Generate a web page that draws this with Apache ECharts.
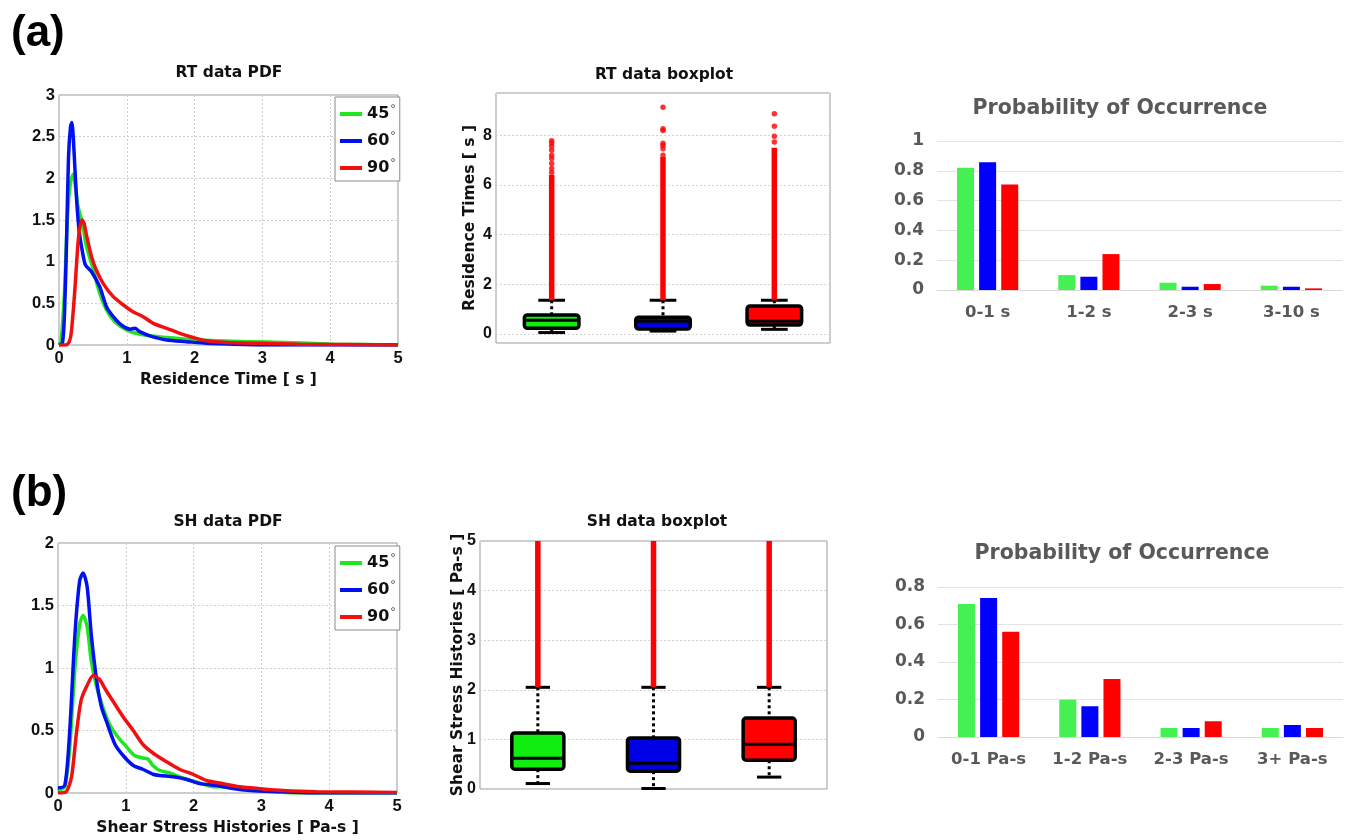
<!DOCTYPE html>
<html><head><meta charset="utf-8">
<script src="https://cdn.jsdelivr.net/npm/echarts@6/dist/echarts.min.js"></script>
<style>html,body{margin:0;padding:0;background:#fff}#c{width:1349px;height:840px}</style>
</head><body><div id="c"></div>
<script>
// ---------- data ----------
const angles = ['45', '60', '90'];

// RT PDF curves
const rt45X = [0, 0.03, 0.08, 0.13, 0.17, 0.21, 0.25, 0.28, 0.34, 0.4, 0.5, 0.6, 0.7, 0.82, 0.95, 1.09, 1.34, 1.59, 1.88, 2.33, 2.82, 3.31, 4.05, 5];
const rt45Y = [0, 0.04, 0.62, 1.62, 1.95, 2.05, 1.85, 1.66, 1.48, 1.2, 0.92, 0.62, 0.42, 0.28, 0.2, 0.15, 0.11, 0.09, 0.07, 0.05, 0.04, 0.03, 0.01, 0.0];
const rt60X = [0, 0.05, 0.08, 0.11, 0.14, 0.17, 0.19, 0.22, 0.26, 0.3, 0.35, 0.39, 0.48, 0.6, 0.7, 0.8, 0.92, 1.05, 1.12, 1.19, 1.34, 1.59, 1.88, 2.18, 2.57, 3.06, 5];
const rt60Y = [0, 0.02, 0.35, 1.2, 2.25, 2.62, 2.67, 2.35, 1.74, 1.35, 1.1, 0.96, 0.88, 0.7, 0.46, 0.34, 0.24, 0.19, 0.2, 0.16, 0.11, 0.06, 0.04, 0.02, 0.01, 0, 0];
const rt90X = [0, 0.1, 0.15, 0.18, 0.23, 0.28, 0.31, 0.34, 0.37, 0.4, 0.48, 0.55, 0.65, 0.8, 0.95, 1.09, 1.24, 1.39, 1.59, 1.78, 1.98, 2.18, 2.47, 2.97, 3.56, 5];
const rt90Y = [0, 0, 0.04, 0.14, 0.62, 1.22, 1.42, 1.5, 1.46, 1.34, 1.06, 0.9, 0.74, 0.58, 0.48, 0.4, 0.34, 0.26, 0.2, 0.14, 0.09, 0.05, 0.03, 0.02, 0.01, 0];

// SH PDF curves
const sh45X = [0, 0.1, 0.17, 0.25, 0.32, 0.37, 0.43, 0.49, 0.57, 0.66, 0.76, 0.88, 1.01, 1.13, 1.25, 1.33, 1.4, 1.5, 1.65, 1.84, 2.09, 2.29, 2.58, 2.83, 3.17, 3.56, 5];
const sh45Y = [0.02, 0.05, 0.34, 1.0, 1.35, 1.42, 1.33, 1.06, 0.85, 0.69, 0.55, 0.45, 0.37, 0.3, 0.28, 0.27, 0.22, 0.18, 0.16, 0.12, 0.08, 0.05, 0.05, 0.03, 0.01, 0, 0];
const sh60X = [0, 0.1, 0.17, 0.25, 0.32, 0.37, 0.43, 0.49, 0.57, 0.64, 0.71, 0.84, 0.96, 1.11, 1.25, 1.4, 1.5, 1.7, 1.89, 2.09, 2.34, 2.58, 2.83, 3.32, 3.81, 5];
const sh60Y = [0.04, 0.06, 0.47, 1.27, 1.7, 1.76, 1.65, 1.27, 0.9, 0.69, 0.58, 0.39, 0.3, 0.22, 0.19, 0.15, 0.14, 0.13, 0.11, 0.075, 0.06, 0.035, 0.02, 0.01, 0, 0];
const sh90X = [0, 0.12, 0.2, 0.27, 0.34, 0.42, 0.52, 0.61, 0.71, 0.84, 0.96, 1.11, 1.25, 1.4, 1.6, 1.79, 1.99, 2.19, 2.38, 2.68, 2.97, 3.32, 3.81, 5];
const sh90Y = [0, 0.01, 0.13, 0.47, 0.74, 0.85, 0.94, 0.91, 0.82, 0.71, 0.61, 0.5, 0.39, 0.32, 0.25, 0.19, 0.15, 0.1, 0.08, 0.05, 0.035, 0.02, 0.01, 0.005];

// RT boxplot
const rtLow = [0.06, 0.12, 0.19];
const rtQ1 = [0.23, 0.2, 0.36];
const rtMed = [0.56, 0.52, 0.52];
const rtQ3 = [0.77, 0.68, 1.13];
const rtHigh = [1.36, 1.36, 1.36];
const rtDenseTop = [6.4, 7.12, 7.5];
const rtOut45 = [6.5, 6.66, 6.86, 7.06, 7.2, 7.4, 7.56, 7.69, 7.78];
const rtOut60 = [7.2, 7.46, 7.59, 7.68, 8.19, 8.26, 9.13];
const rtOut90 = [7.73, 7.96, 8.36, 8.87];

// SH boxplot
const shLow = [0.11, 0.01, 0.24];
const shQ1 = [0.40, 0.36, 0.58];
const shMed = [0.62, 0.52, 0.90];
const shQ3 = [1.13, 1.03, 1.43];
const shHigh = [2.05, 2.05, 2.05];
const shDenseTop = [5, 5, 5];

// Probability bars
const rtBins = ['0-1 s', '1-2 s', '2-3 s', '3-10 s'];
const rtProb45 = [0.82, 0.10, 0.049, 0.029];
const rtProb60 = [0.857, 0.089, 0.022, 0.022];
const rtProb90 = [0.708, 0.241, 0.040, 0.011];
const shBins = ['0-1 Pa-s', '1-2 Pa-s', '2-3 Pa-s', '3+ Pa-s'];
const shProb45 = [0.709, 0.199, 0.048, 0.048];
const shProb60 = [0.741, 0.164, 0.048, 0.064];
const shProb90 = [0.562, 0.309, 0.084, 0.048];

// ---------- styling ----------
const FA = '"Liberation Sans", Arial, Helvetica, sans-serif';
const FD = '"DejaVu Sans", sans-serif';
const lineColors = ['#1fe61f', '#0010f0', '#f01010'];
const boxFills = ['#10ee10', '#0000e6', '#ff0000'];
const barColors = ['#44f052', '#0000ff', '#ff0000'];
const GRAY = '#595959';

const zip = (xs, ys) => xs.map((x, i) => [x, ys[i]]);

const chart = echarts.init(document.getElementById('c'), null, { renderer: 'canvas' });

const nameStyle = { fontFamily: FD, fontSize: 15.5, fontWeight: 'bold', color: '#111' };

function pdfX(idx, name) {
  return {
    gridIndex: idx, type: 'value', min: 0, max: 5, interval: 1,
    name: name, nameLocation: 'middle', nameGap: 27, nameMoveOverlap: false,
    nameTextStyle: nameStyle,
    axisLine: { show: false }, axisTick: { show: false },
    axisLabel: { fontFamily: FA, fontSize: 16.5, fontWeight: 'bold', color: '#111', margin: 5 },
    splitLine: { show: true, lineStyle: { color: '#cfcfcf', type: [2, 2] } }
  };
}
function pdfY(idx, max) {
  return {
    gridIndex: idx, type: 'value', min: 0, max: max, interval: 0.5,
    axisLine: { show: false }, axisTick: { show: false },
    axisLabel: { fontFamily: FA, fontSize: 16.5, fontWeight: 'bold', color: '#111', margin: 4 },
    splitLine: { show: true, lineStyle: { color: '#cfcfcf', type: [2, 2] } }
  };
}
function boxX(idx) {
  return {
    gridIndex: idx, type: 'category', data: angles,
    axisLine: { show: false }, axisTick: { show: false }, axisLabel: { show: false },
    splitLine: { show: false }
  };
}
function boxY(idx, min, max, name, gap, extra) {
  return Object.assign({
    gridIndex: idx, type: 'value', min: min, max: max,
    name: name, nameLocation: 'middle', nameGap: gap, nameRotate: 90, nameMoveOverlap: false,
    nameTextStyle: nameStyle,
    axisLine: { show: false }, axisTick: { show: false },
    axisLabel: { fontFamily: FA, fontSize: 16, fontWeight: 'bold', color: '#111', margin: 4 },
    splitLine: { show: true, lineStyle: { color: '#d4d4d4', type: [2, 2] } }
  }, extra || {});
}
function barX(idx, cats) {
  return {
    gridIndex: idx, type: 'category', data: cats,
    axisLine: { show: true, lineStyle: { color: '#d9d9d9', width: 1 } },
    axisTick: { show: false },
    axisLabel: { fontFamily: FD, fontSize: 16.5, fontWeight: 'bold', color: GRAY, margin: 14 }
  };
}
function barY(idx, max) {
  return {
    gridIndex: idx, type: 'value', min: 0, max: max, interval: 0.2,
    axisLine: { show: false }, axisTick: { show: false },
    axisLabel: { fontFamily: FD, fontSize: 17, fontWeight: 'bold', color: GRAY, margin: 13 },
    splitLine: { show: true, lineStyle: { color: '#e3e3e3', width: 1 } }
  };
}

function boxRender(capFrac, boxFrac) {
  return function (params, api) {
    const i = api.value(0);
    const band = api.size([1, 0])[0];
    const bw = band * boxFrac, cw = band * capFrac;
    const x = api.coord([i, 0])[0];
    const y = (k) => api.coord([i, api.value(k)])[1];
    const yLo = y(1), yQ1 = y(2), yMd = y(3), yQ3 = y(4), yHi = y(5);
    const K = '#000';
    return {
      type: 'group', children: [
        { type: 'line', shape: { x1: x, y1: yHi, x2: x, y2: yQ3 }, style: { stroke: K, lineWidth: 3, lineDash: [3, 3] } },
        { type: 'line', shape: { x1: x, y1: yQ1, x2: x, y2: yLo }, style: { stroke: K, lineWidth: 3, lineDash: [3, 3] } },
        { type: 'line', shape: { x1: x - cw / 2, y1: yHi, x2: x + cw / 2, y2: yHi }, style: { stroke: K, lineWidth: 3 } },
        { type: 'line', shape: { x1: x - cw / 2, y1: yLo, x2: x + cw / 2, y2: yLo }, style: { stroke: K, lineWidth: 3 } },
        { type: 'rect', shape: { x: x - bw / 2, y: yQ3, width: bw, height: yQ1 - yQ3, r: 3 }, style: { fill: boxFills[i], stroke: K, lineWidth: 3.5 } },
        { type: 'line', shape: { x1: x - bw / 2, y1: yMd, x2: x + bw / 2, y2: yMd }, style: { stroke: K, lineWidth: 3 } }
      ]
    };
  };
}
function denseRender(params, api) {
  const i = api.value(0);
  const p1 = api.coord([i, api.value(1)]);
  const p2 = api.coord([i, api.value(2)]);
  return { type: 'line', shape: { x1: p1[0], y1: p1[1], x2: p2[0], y2: p2[1] }, style: { stroke: '#ff0000', lineWidth: 5.5 } };
}

const boxData = (lo, q1, md, q3, hi) => angles.map((a, i) => [i, lo[i], q1[i], md[i], q3[i], hi[i]]);
const denseData = (hi, top) => angles.map((a, i) => [i, hi[i], top[i]]);
const outData = (lists) => lists.flatMap((arr, i) => arr.map(v => [i, v]));

function lineSeries(name, data, color, idx, z) {
  return {
    name: name, type: 'line', xAxisIndex: idx, yAxisIndex: idx, data: data,
    symbol: 'none', showSymbol: false, smooth: 0.25, z: z,
    lineStyle: { color: color, width: 3.5 }, itemStyle: { color: color }
  };
}
function barSeries(name, data, color, idx) {
  return {
    name: name, type: 'bar', xAxisIndex: idx, yAxisIndex: idx, data: data,
    barWidth: 17, barGap: '30%', itemStyle: { color: color }
  };
}

const legendCommon = {
  orient: 'vertical', icon: 'rect', itemWidth: 22, itemHeight: 4, itemGap: 9,
  padding: [7, 4, 5, 5], borderColor: '#8a8a8a', borderWidth: 1, backgroundColor: '#fff',
  data: angles, selectedMode: false,
  formatter: '{n|{name}}{d|°}',
  textStyle: {
    rich: {
      n: { fontFamily: FD, fontSize: 16, fontWeight: 'bold', color: '#111', lineHeight: 20 },
      d: { fontFamily: FD, fontSize: 11, color: '#444', verticalAlign: 'top', lineHeight: 10, padding: [0, 0, 0, 1] }
    }
  }
};

const titleStyle = { fontFamily: FD, fontSize: 15.5, fontWeight: 'bold', color: '#111' };
const barTitleStyle = { fontFamily: FD, fontSize: 20.5, fontWeight: 'bold', color: GRAY };
const panelStyle = { fontFamily: FA, fontSize: 44, fontWeight: 'bold', color: '#000' };

const option = {
  animation: false,
  backgroundColor: '#fff',
  title: [
    { text: '(a)', left: 11, top: 12, padding: 0, textStyle: panelStyle },
    { text: '(b)', left: 11, top: 472, padding: 0, textStyle: panelStyle },
    { text: 'RT data PDF', left: 229, top: 65, padding: 0, textAlign: 'center', textStyle: titleStyle },
    { text: 'RT data boxplot', left: 664, top: 67, padding: 0, textAlign: 'center', textStyle: titleStyle },
    { text: 'Probability of Occurrence', left: 1120, top: 98, padding: 0, textAlign: 'center', textStyle: barTitleStyle },
    { text: 'SH data PDF', left: 228, top: 514, padding: 0, textAlign: 'center', textStyle: titleStyle },
    { text: 'SH data boxplot', left: 657, top: 514, padding: 0, textAlign: 'center', textStyle: titleStyle },
    { text: 'Probability of Occurrence', left: 1122, top: 543, padding: 0, textAlign: 'center', textStyle: barTitleStyle }
  ],
  legend: [
    Object.assign({ left: 335, top: 97 }, legendCommon),
    Object.assign({ left: 335, top: 546 }, legendCommon)
  ],
  grid: [
    { left: 59, top: 95, width: 339, height: 250, show: true, borderColor: '#9a9a9a', borderWidth: 1, backgroundColor: 'transparent' },
    { left: 496, top: 93, width: 334, height: 250, show: true, borderColor: '#9a9a9a', borderWidth: 1, backgroundColor: 'transparent' },
    { left: 937, top: 141, width: 405, height: 149 },
    { left: 58, top: 543, width: 339, height: 250, show: true, borderColor: '#9a9a9a', borderWidth: 1, backgroundColor: 'transparent' },
    { left: 480, top: 541, width: 347, height: 248, show: true, borderColor: '#9a9a9a', borderWidth: 1, backgroundColor: 'transparent' },
    { left: 938, top: 587, width: 405, height: 150 }
  ],
  xAxis: [
    pdfX(0, 'Residence Time [ s ]'),
    boxX(1),
    barX(2, rtBins),
    pdfX(3, 'Shear Stress Histories [ Pa-s ]'),
    boxX(4),
    barX(5, shBins)
  ],
  yAxis: [
    pdfY(0, 3),
    boxY(1, -0.36, 9.7, 'Residence Times [ s ]', 18, {
      splitNumber: 5,
      axisLabel: { fontFamily: FA, fontSize: 16, fontWeight: 'bold', color: '#111', margin: 4,
        formatter: v => (Math.abs(v - Math.round(v)) < 1e-6 ? String(Math.round(v)) : '') }
    }),
    barY(2, 1),
    pdfY(3, 2),
    boxY(4, 0, 5, 'Shear Stress Histories [ Pa-s ]', 14, { interval: 1 }),
    barY(5, 0.8)
  ],
  series: [
    lineSeries('45', zip(rt45X, rt45Y), lineColors[0], 0, 2),
    lineSeries('60', zip(rt60X, rt60Y), lineColors[1], 0, 3),
    lineSeries('90', zip(rt90X, rt90Y), lineColors[2], 0, 4),
    {
      type: 'custom', name: 'rtBox', xAxisIndex: 1, yAxisIndex: 1,
      renderItem: boxRender(0.24, 0.49), encode: { x: 0, y: [1, 2, 3, 4, 5] },
      data: boxData(rtLow, rtQ1, rtMed, rtQ3, rtHigh), z: 2
    },
    {
      type: 'custom', name: 'rtDense', xAxisIndex: 1, yAxisIndex: 1,
      renderItem: denseRender, encode: { x: 0, y: [1, 2] },
      data: denseData(rtHigh, rtDenseTop), z: 3
    },
    {
      type: 'scatter', name: 'rtOut', xAxisIndex: 1, yAxisIndex: 1, symbolSize: 5.5,
      itemStyle: { color: '#ff0000' }, data: outData([rtOut45, rtOut60, rtOut90]), z: 3
    },
    barSeries('b45', rtProb45, barColors[0], 2),
    barSeries('b60', rtProb60, barColors[1], 2),
    barSeries('b90', rtProb90, barColors[2], 2),
    lineSeries('45', zip(sh45X, sh45Y), lineColors[0], 3, 2),
    lineSeries('60', zip(sh60X, sh60Y), lineColors[1], 3, 3),
    lineSeries('90', zip(sh90X, sh90Y), lineColors[2], 3, 4),
    {
      type: 'custom', name: 'shBox', xAxisIndex: 4, yAxisIndex: 4,
      renderItem: boxRender(0.21, 0.45), encode: { x: 0, y: [1, 2, 3, 4, 5] },
      data: boxData(shLow, shQ1, shMed, shQ3, shHigh), z: 2
    },
    {
      type: 'custom', name: 'shDense', xAxisIndex: 4, yAxisIndex: 4,
      renderItem: denseRender, encode: { x: 0, y: [1, 2] },
      data: denseData(shHigh, shDenseTop), z: 3
    },
    barSeries('s45', shProb45, barColors[0], 5),
    barSeries('s60', shProb60, barColors[1], 5),
    barSeries('s90', shProb90, barColors[2], 5)
  ]
};
chart.setOption(option);
</script>
</body></html>
